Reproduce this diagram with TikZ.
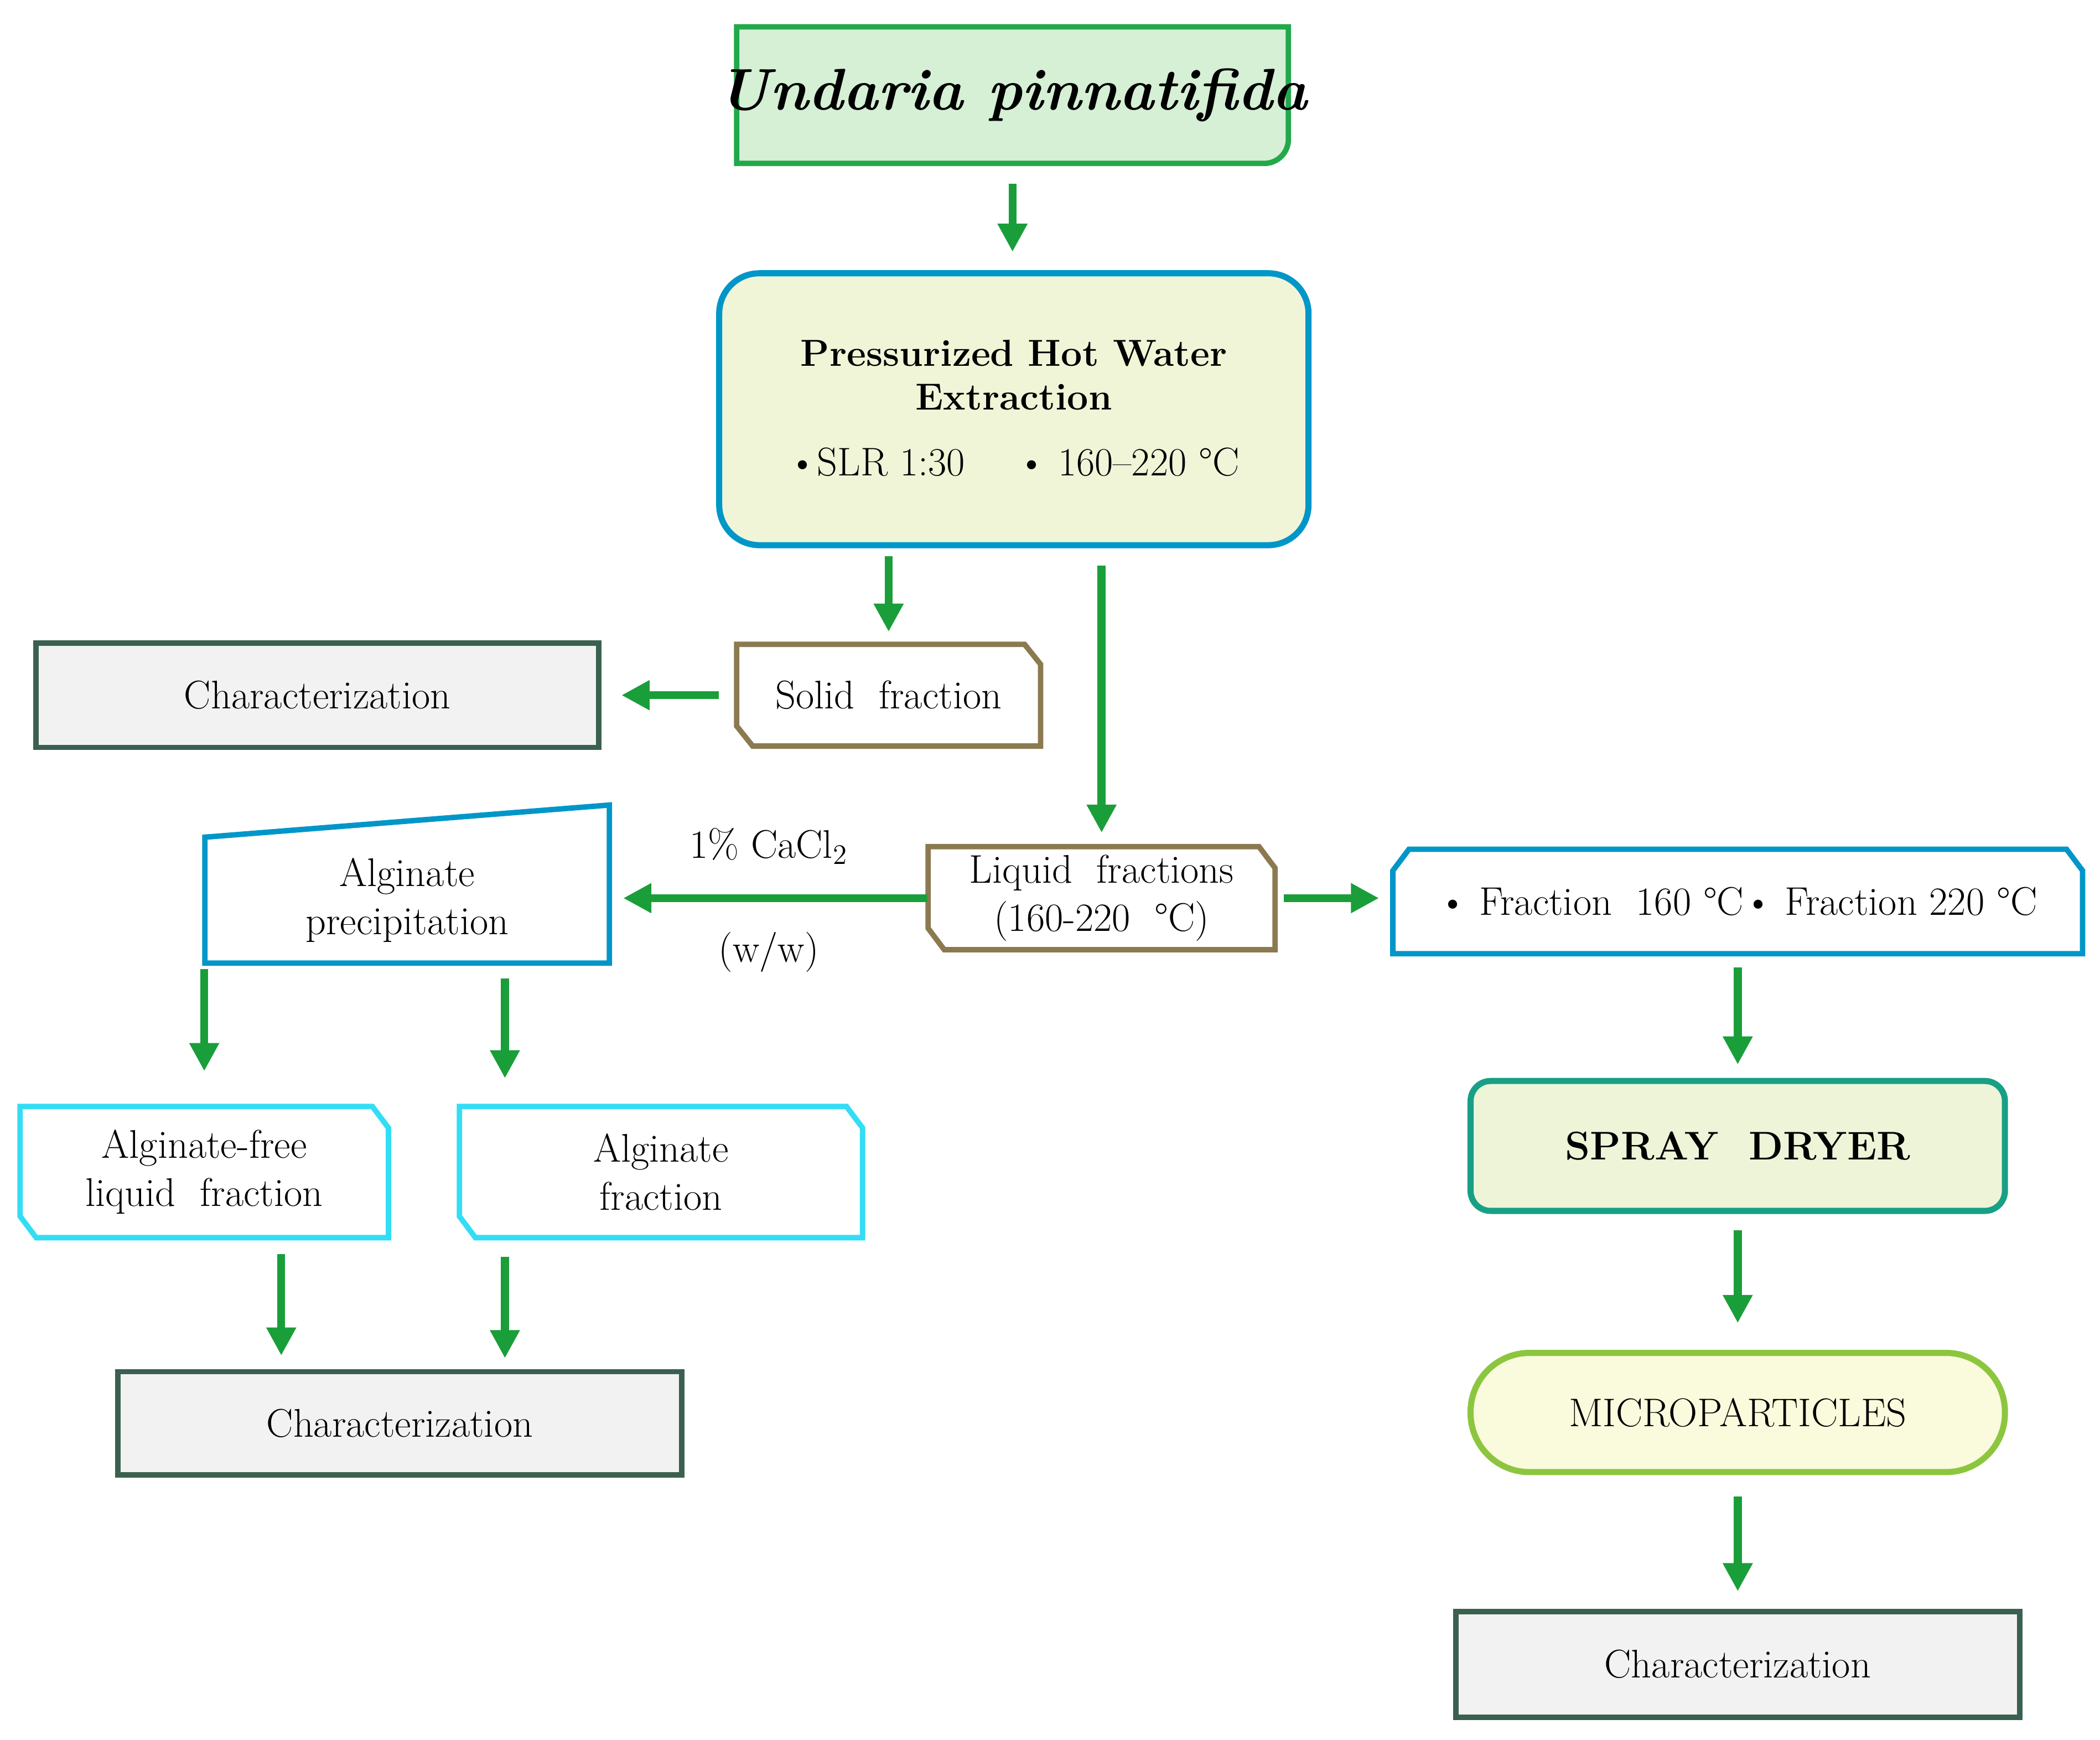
\documentclass[tikz,border=0pt]{standalone}
\usepackage{fontspec}
\usetikzlibrary{arrows.meta}
\definecolor{arrg}{HTML}{1A9E3A}
\definecolor{ungreen}{HTML}{22A94A}
\definecolor{unfill}{HTML}{D5F0D5}
\definecolor{blueb}{HTML}{0096C8}
\definecolor{phfill}{HTML}{F0F5D8}
\definecolor{brownb}{HTML}{8B7A50}
\definecolor{charb}{HTML}{3A6050}
\definecolor{charf}{HTML}{F2F2F2}
\definecolor{cyanb}{HTML}{33DDF5}
\definecolor{teal}{HTML}{17A085}
\definecolor{sdfill}{HTML}{EEF4D8}
\definecolor{mpb}{HTML}{8CC63F}
\definecolor{mpfill}{HTML}{FAFADC}
\begin{document}
\begin{tikzpicture}[x=0.02cm,y=-0.02cm,
  every node/.style={font=\fontsize{17}{20.4}\selectfont, align=center, inner sep=0pt},
  bx/.style 2 args={minimum width=#1*0.02cm, minimum height=#2*0.02cm},
  arr/.style={draw=arrg, line width=3.4pt, -{Triangle[width=0.42cm,length=0.42cm]}},
  ol/.style={line width=2.3pt, line join=miter},
  chr/.style={ol, draw=charb, fill=charf}]
\useasboundingbox (0,0) rectangle (1568,1299);
% Undaria
\draw[ol, draw=ungreen, fill=unfill] (550,20) -- (962,20) -- (962,104) arc (0:90:18) -- (550,122) -- cycle;
\node[bx={412}{102}, font=\fontsize{25}{30}\selectfont\bfseries\itshape] (und) at (756,71) {Undaria pinnatifida};
% PHWE
\node[bx={440}{203}, draw=blueb, fill=phfill, line width=2.6pt, rounded corners=0.6cm] (phwe) at (757,305.5) {};
\node[font=\fontsize{16}{18.7}\selectfont\bfseries] at (757,280) {Pressurized Hot Water\\Extraction};
\node at (757,345) {\textbullet SLR 1:30\quad\ \textbullet\ 160–220 °C};
% Solid fraction
\draw[ol, draw=brownb, fill=white] (550,481) -- (765,481) -- (777,496) -- (777,557) -- (562,557) -- (550,542) -- cycle;
\node[bx={227}{76}] (sf) at (663.5,519) {Solid\ \ fraction};
% Char 1
\node[bx={420}{78}, chr] (ch1) at (237,519) {Characterization};
% Liquid fractions
\draw[ol, draw=brownb, fill=white] (693,632) -- (940,632) -- (952,648) -- (952,709) -- (705,709) -- (693,693) -- cycle;
\node[bx={259}{77}] (lf) at (822.5,670.5) {Liquid\ \ fractions\\(160-220\ \ °C)};
% Alginate precipitation
\draw[ol, draw=blueb, fill=white] (153,625) -- (455,601) -- (455,719) -- (153,719) -- cycle;
\node[bx={302}{94}] (ap) at (304,672) {Alginate\\precipitation};
% Fraction box
\draw[ol, draw=blueb, fill=white] (1040,650) -- (1052,634) -- (1543,634) -- (1555,650) -- (1555,712) -- (1040,712) -- cycle;
\node[bx={515}{78}] (fr) at (1297.5,673) {\textbullet\ Fraction\ \ 160 °C\textbullet\ Fraction 220 °C};
% Alginate-free
\draw[ol, draw=cyanb, fill=white] (15,826) -- (278,826) -- (290,842) -- (290,924) -- (27,924) -- (15,908) -- cycle;
\node[bx={275}{98}] (af) at (152.5,875) {Alginate-free\\liquid\ \ fraction};
% Alginate fraction
\draw[ol, draw=cyanb, fill=white] (343,826) -- (632,826) -- (644,842) -- (644,924) -- (355,924) -- (343,908) -- cycle;
\node[bx={301}{98}] (alf) at (493.5,875) {Alginate\\fraction};
% Char 2
\node[bx={421}{77}, chr] (ch2) at (298.5,1062.5) {Characterization};
% Spray dryer
\node[bx={399}{97}, draw=teal, fill=sdfill, line width=2.6pt, rounded corners=0.3cm, font=\fontsize{17}{20.4}\selectfont\bfseries] (sd) at (1297.5,855.5) {SPRAY\ \ DRYER};
% Microparticles
\node[bx={399}{89}, draw=mpb, fill=mpfill, line width=2.6pt, rounded corners=0.88cm] (mp) at (1297.5,1054.5) {MICROPARTICLES};
% Char 3
\node[bx={421}{79}, chr] (ch3) at (1297.5,1242.5) {Characterization};
% Arrows
\draw[arr] (und.south) ++(0,15) -- (756,188) coordinate (a1) ;
\draw[arr, shorten <=0.12cm, shorten >=0.18cm] (phwe.south -| sf.north) -- (sf.north);
\draw[arr, shorten <=0.26cm, shorten >=0.2cm] (phwe.south -| lf.north) -- (lf.north);
\draw[arr, shorten <=0.26cm, shorten >=0.3cm] (sf.west) -- (ch1.east);
\draw[arr, shorten >=0.2cm] (lf.west) -- (lf.west -| ap.east) node[midway, above=0.45cm] {1\% CaCl$_2$} node[midway, below=0.45cm] {(w/w)};
\draw[arr, shorten <=0.12cm, shorten >=0.2cm] (lf.east) -- (lf.east -| fr.west);
\draw[arr, shorten <=0.16cm, shorten >=0.52cm] (ap.south -| af.north) ++(0,-4) -- (af.north) ;
\draw[arr, shorten <=0.22cm, shorten >=0.42cm] (ap.south -| 377,0) -- (377,826);
\draw[arr, shorten <=0.24cm, shorten >=0.24cm] (af.south -| 210,0) -- (210,1024);
\draw[arr, shorten <=0.28cm, shorten >=0.2cm] (alf.south -| 377,0) -- (377,1024);
\draw[arr, shorten <=0.2cm, shorten >=0.2cm] (fr.south) -- (sd.north);
\draw[arr, shorten <=0.24cm, shorten >=0.4cm] (sd.south) -- (mp.north);
\draw[arr, shorten <=0.32cm, shorten >=0.26cm] (mp.south) -- (ch3.north);
\end{tikzpicture}
\end{document}
